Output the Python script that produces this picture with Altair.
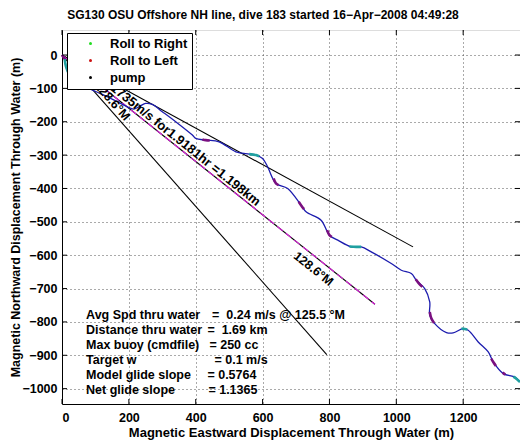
import altair as alt
import pandas as pd

FONT = "Liberation Sans"

title_text = "SG130 OSU Offshore NH line, dive 183 started 16\u2212Apr\u22122008 04:49:28"
x_title = "Magnetic Eastward Displacement Through Water (m)"
y_title = "Magnetic Northward Displacement Through Water (m)"

x_ticks = [0, 200, 400, 600, 800, 1000, 1200]
y_ticks = [0, -100, -200, -300, -400, -500, -600, -700, -800, -900, -1000]
x_domain = [0, 1370]
y_domain = [-1046, 75]

# glider track (through-water displacement)
track_x = [0, 8, 12, 22, 40, 80, 120, 150, 185, 215, 235, 250, 270, 300, 340, 390, 400, 430, 470, 520,
           560, 580, 600, 615, 640, 675, 715, 730, 775, 800, 825, 865, 895, 925, 985, 1015, 1045, 1060,
           1085, 1100, 1100, 1115, 1150, 1170, 1200, 1215, 1245, 1275, 1290, 1320, 1355, 1370]
track_y = [0, -12, -35, -60, -80, -100, -118, -132, -150, -162, -152, -145, -148, -170, -200, -240, -250,
           -255, -260, -290, -297, -300, -310, -335, -385, -400, -450, -470, -495, -540, -555, -575, -575,
           -590, -625, -645, -655, -675, -700, -740, -780, -805, -832, -833, -820, -825, -860, -890, -920,
           -955, -965, -980]

# roll segments
right_segs_x = [[8, 12, 22], [560, 580, 590], [860, 880, 895], [1195, 1205, 1212], [1350, 1360, 1370]]
right_segs_y = [[-12, -35, -60], [-297, -300, -304], [-574, -575, -575], [-820, -821, -823], [-964, -971, -980]]
left_segs_x = [[0, 8], [420, 430, 442], [633, 640, 648], [708, 715, 724], [793, 800, 807],
               [1058, 1068, 1078], [1100, 1105, 1113], [1284, 1290, 1298], [1318, 1326]]
left_segs_y = [[0, -12], [-253, -255, -256], [-370, -385, -390], [-440, -450, -462], [-525, -540, -545],
               [-672, -685, -695], [-770, -790, -803], [-910, -920, -932], [-952, -958]]

# heading reference lines from the origin (1.198 km long)
ref_end_x = [1050, 936, 792]
ref_end_y = [-575, -747, -898]

legend_kinds = ["Roll to Right", "Roll to Left", "pump"]
legend_colors = ["#22dd22", "#cc1111", "#000000"]

line_text = "0.1735m/s for1.9181hr =1.198km"
head_text = "128.6\u00b0M"

stats_labels = ["Avg Spd thru water", "Distance thru water", "Max buoy (cmdfile)", "Target w",
                "Model glide slope", "Net glide slope"]
stats_values = ["=\u00a0\u00a00.24 m/s @ 125.5 \u00b0M", "=\u00a0\u00a01.69 km", "= 250 cc", "= 0.1 m/s",
                "= 0.5764", "= 1.1365"]
stats_value_x = [449, 435, 441, 456, 435, 438]
stats_row_y = [-780, -825, -870, -915, -960, -1005]
stats_label_x = 72

W, H = 458, 374

xs = alt.Scale(domain=x_domain, nice=False, zero=False)
ys = alt.Scale(domain=y_domain, nice=False, zero=False)

axis_common = dict(ticks=False, tickSize=0, grid=True, gridDash=[1, 3], gridColor="#555555", gridWidth=1,
                   domainColor="black", labelFont=FONT, labelFontSize=12.5, labelFontWeight="bold",
                   labelColor="black", titleFont=FONT, titleFontWeight="bold",
                   titleColor="black", format="d")
x_axis = alt.Axis(values=x_ticks, labelPadding=7, titlePadding=3, titleFontSize=13, **axis_common)
y_axis = alt.Axis(values=y_ticks, labelPadding=5, titleFontSize=12.5, titleX=-40, **axis_common)


def X(field="x"):
    return alt.X(f"{field}:Q", scale=xs, axis=x_axis, title=x_title)


def Y(field="y"):
    return alt.Y(f"{field}:Q", scale=ys, axis=y_axis, title=y_title)


ref_df = pd.DataFrame({"x0": [0, 0, 0], "y0": [0, 0, 0], "x1": ref_end_x, "y1": ref_end_y})
ref_lines = alt.Chart(ref_df).mark_rule(color="black", strokeWidth=1.1).encode(
    x=X("x0"), y=Y("y0"), x2="x1:Q", y2="y1:Q")
mid_df = ref_df.iloc[[1]]
mid_line = alt.Chart(mid_df).mark_rule(color="#e020e0", strokeWidth=1.1, strokeDash=[7, 4]).encode(
    x=X("x0"), y=Y("y0"), x2="x1:Q", y2="y1:Q")

track_df = pd.DataFrame({"x": track_x, "y": track_y, "i": list(range(len(track_x)))})
track = alt.Chart(track_df).mark_line(color="#1c1cae", strokeWidth=1.3, interpolate="catmull-rom").encode(
    x=X(), y=Y(), order="i:Q")

seg_rows = []
for k, (sx, sy) in enumerate(zip(right_segs_x, right_segs_y)):
    for j, (a, b) in enumerate(zip(sx, sy)):
        seg_rows.append({"x": a, "y": b, "seg": f"r{k}", "j": j, "kind": "Roll to Right"})
for k, (sx, sy) in enumerate(zip(left_segs_x, left_segs_y)):
    for j, (a, b) in enumerate(zip(sx, sy)):
        seg_rows.append({"x": a, "y": b, "seg": f"l{k}", "j": j, "kind": "Roll to Left"})
seg_df = pd.DataFrame(seg_rows)

right_hl = alt.Chart(seg_df[seg_df.kind == "Roll to Right"]).mark_line(
    color="#1fa0a0", strokeWidth=2.6, interpolate="catmull-rom").encode(
    x=X(), y=Y(), detail="seg:N", order="j:Q")
left_hl = alt.Chart(seg_df[seg_df.kind == "Roll to Left"]).mark_line(
    color="#7a1080", strokeWidth=2.6, interpolate="catmull-rom").encode(
    x=X(), y=Y(), detail="seg:N", order="j:Q")

legend_layer = alt.Chart(seg_df).mark_circle(opacity=0, size=8).encode(
    x=X(), y=Y(),
    color=alt.Color("kind:N", scale=alt.Scale(domain=legend_kinds, range=legend_colors),
                    legend=alt.Legend(title=None, orient="none", legendX=5, legendY=3,
                                      fillColor="white", strokeColor="black", padding=4,
                                      symbolType="circle", symbolSize=9, symbolOffset=13,
                                      labelOffset=13, labelFont=FONT, labelFontSize=13,
                                      labelFontWeight="bold", labelColor="black", rowPadding=3,
                                      symbolOpacity=1, symbolStrokeWidth=0, labelLimit=300)))

lab_df = pd.DataFrame({
    "x": [112, 752, 88],
    "y": [-90, -641, -100],
    "t": [line_text, head_text, head_text],
})
lab1 = alt.Chart(lab_df.iloc[[0]]).mark_text(align="left", baseline="bottom", font=FONT, fontSize=13,
                                             fontWeight="bold", color="black", angle=38.6).encode(
    x=X(), y=Y(), text="t:N")
lab2 = alt.Chart(lab_df.iloc[[1]]).mark_text(align="center", baseline="middle", font=FONT, fontSize=12.5,
                                             fontWeight="bold", color="black", angle=38.6).encode(
    x=X(), y=Y(), text="t:N")
lab3 = alt.Chart(lab_df.iloc[[2]]).mark_text(align="left", baseline="bottom", font=FONT, fontSize=12.5,
                                             fontWeight="bold", color="black", angle=48.5).encode(
    x=X(), y=Y(), text="t:N")

stats_df = pd.DataFrame({"lab": stats_labels, "val": stats_values, "vx": stats_value_x,
                         "y": stats_row_y, "lx": [stats_label_x] * len(stats_labels)})
stats_l = alt.Chart(stats_df).mark_text(align="left", baseline="middle", font=FONT, fontSize=12.5,
                                        fontWeight="bold", color="black").encode(
    x=X("lx"), y=Y(), text="lab:N")
stats_v = alt.Chart(stats_df).mark_text(align="left", baseline="middle", font=FONT, fontSize=12.5,
                                        fontWeight="bold", color="black").encode(
    x=X("vx"), y=Y(), text="val:N")

xt_df = pd.DataFrame({"v": x_ticks})
yt_df = pd.DataFrame({"v": y_ticks})
tick_style = dict(color="black", strokeWidth=1)
t_bottom = alt.Chart(xt_df).mark_rule(**tick_style).encode(x=X("v"), y=alt.value(H), y2=alt.value(H - 5))
t_top = alt.Chart(xt_df).mark_rule(**tick_style).encode(x=X("v"), y=alt.value(0), y2=alt.value(5))
t_left = alt.Chart(yt_df).mark_rule(**tick_style).encode(y=Y("v"), x=alt.value(0), x2=alt.value(5))
t_right = alt.Chart(yt_df).mark_rule(**tick_style).encode(y=Y("v"), x=alt.value(W), x2=alt.value(W - 5))

chart = alt.layer(
    ref_lines, mid_line, track, right_hl, left_hl, lab1, lab2, lab3, stats_l, stats_v,
    t_bottom, t_top, t_left, t_right, legend_layer
).properties(
    width=W, height=H,
    title=alt.TitleParams(text=title_text, font=FONT, fontSize=12, fontWeight="bold", color="black",
                          anchor="middle", frame="group", dx=-28, offset=8),
    padding={"left": 54, "top": 22, "right": 0, "bottom": 38},
    autosize=alt.AutoSizeParams(type="none"),
).configure_view(stroke="black", strokeWidth=1).configure(background="white")

chart.save("out.html", embed_options={"renderer": "svg", "actions": False})
